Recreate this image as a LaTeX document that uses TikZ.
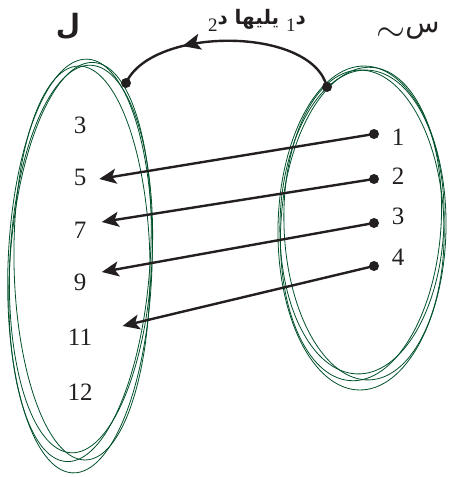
\documentclass[tikz,border=0pt]{standalone}
\usepackage{fontspec}
\setmainfont{Liberation Serif}
\newfontfamily\arabicfont[Script=Arabic]{DejaVu Sans}
\TeXXeTstate=1
\usepackage{xcolor}
\usepackage{tikz}
\usetikzlibrary{arrows.meta,decorations.markings}
\definecolor{setgreen}{RGB}{0,80,42}
\definecolor{inkgray}{RGB}{35,31,32}
\newcommand{\subnum}[1]{\raisebox{-7pt}{\fontsize{19}{19}\selectfont\mdseries\rmfamily #1}}

\begin{document}
\begin{tikzpicture}[
            x=1pt, y=-1pt,
            every node/.style={font=\fontsize{25}{30}\selectfont, text=inkgray},
            setline/.style={draw=setgreen, line width=0.8pt},
            pointdot/.style={circle, fill=inkgray, inner sep=0pt, minimum size=10pt},
            maparrow/.style={draw=inkgray, line width=2.4pt, -{Stealth[length=17pt,width=15pt,inset=4pt]}},
            arcline/.style={draw=inkgray, line width=2.4pt,
                postaction={decorate},
                decoration={markings, mark=at position 0.7 with {\arrow{Stealth[length=18pt,width=16pt,inset=4pt]}}}},
            arlabel/.style={font=\fontsize{20}{24}\selectfont\arabicfont\bfseries},
        ]
            \useasboundingbox (0,0) rectangle (451,477);

            % the two sets
            \foreach \cx/\cy/\rx/\ry/\ang in {80/266/72/207/-2, 80/262/70/200/-4, 82/263/68/197/1, 81/259/71/194/-3}
                \draw[setline, rotate around={\ang:(\cx,\cy)}] (\cx,\cy) ellipse [x radius=\rx, y radius=\ry];
            \foreach \cx/\cy/\rx/\ry/\ang in {362/228/84/162/-1, 361/224/80/157/-4, 364/225/80/155/2, 362/222/82/152/-2}
                \draw[setline, rotate around={\ang:(\cx,\cy)}] (\cx,\cy) ellipse [x radius=\rx, y radius=\ry];

            % elements of the left set
            \node (n3) at (80,125) {3};
            \node (n5) at (80,177) {5};
            \node (n7) at (80,230) {7};
            \node (n9) at (80,282) {9};
            \node (n11) at (80,337) {11};
            \node (n12) at (80,392) {12};

            % elements of the right set
            \node[pointdot] (d1) at (374,134) {};
            \node[pointdot] (d2) at (374,179) {};
            \node[pointdot] (d3) at (374,223) {};
            \node[pointdot] (d4) at (374,266) {};
            \node (r1) at (398,137) {1};
            \node (r2) at (398,176) {2};
            \node (r3) at (398,216) {3};
            \node (r4) at (398,257) {4};

            \draw[maparrow] (d1.center) -- ([shift={(9.5,2)}]n5.east);
            \draw[maparrow] (d2.center) -- ([shift={(12,-8)}]n7.east);
            \draw[maparrow] (d3.center) -- ([shift={(12,-10)}]n9.east);
            \draw[maparrow] (d4.center) -- ([shift={(27,-11)}]n11.east);

            % mapping arc between the sets
            \node[pointdot] (ldot) at (126,83) {};
            \node[pointdot] (rdot) at (327,87) {};
            \draw[arcline] (rdot.center) .. controls (312,26) and (152,26) .. (ldot.center);

            \node[arlabel] (maplabel) at (257,20) {\beginR د\subnum{1} يليها د\subnum{2}\endR};
            \node[font=\fontsize{28}{30}\selectfont\arabicfont\bfseries] (setl) at (68,26) {\beginR ل\endR};
            \node[font=\fontsize{28}{30}\selectfont\arabicfont] (sets) at (408,32) {\raisebox{-9pt}{\scalebox{1.5}{$\sim$}}\beginR س\endR};
        \end{tikzpicture}
\end{document}
